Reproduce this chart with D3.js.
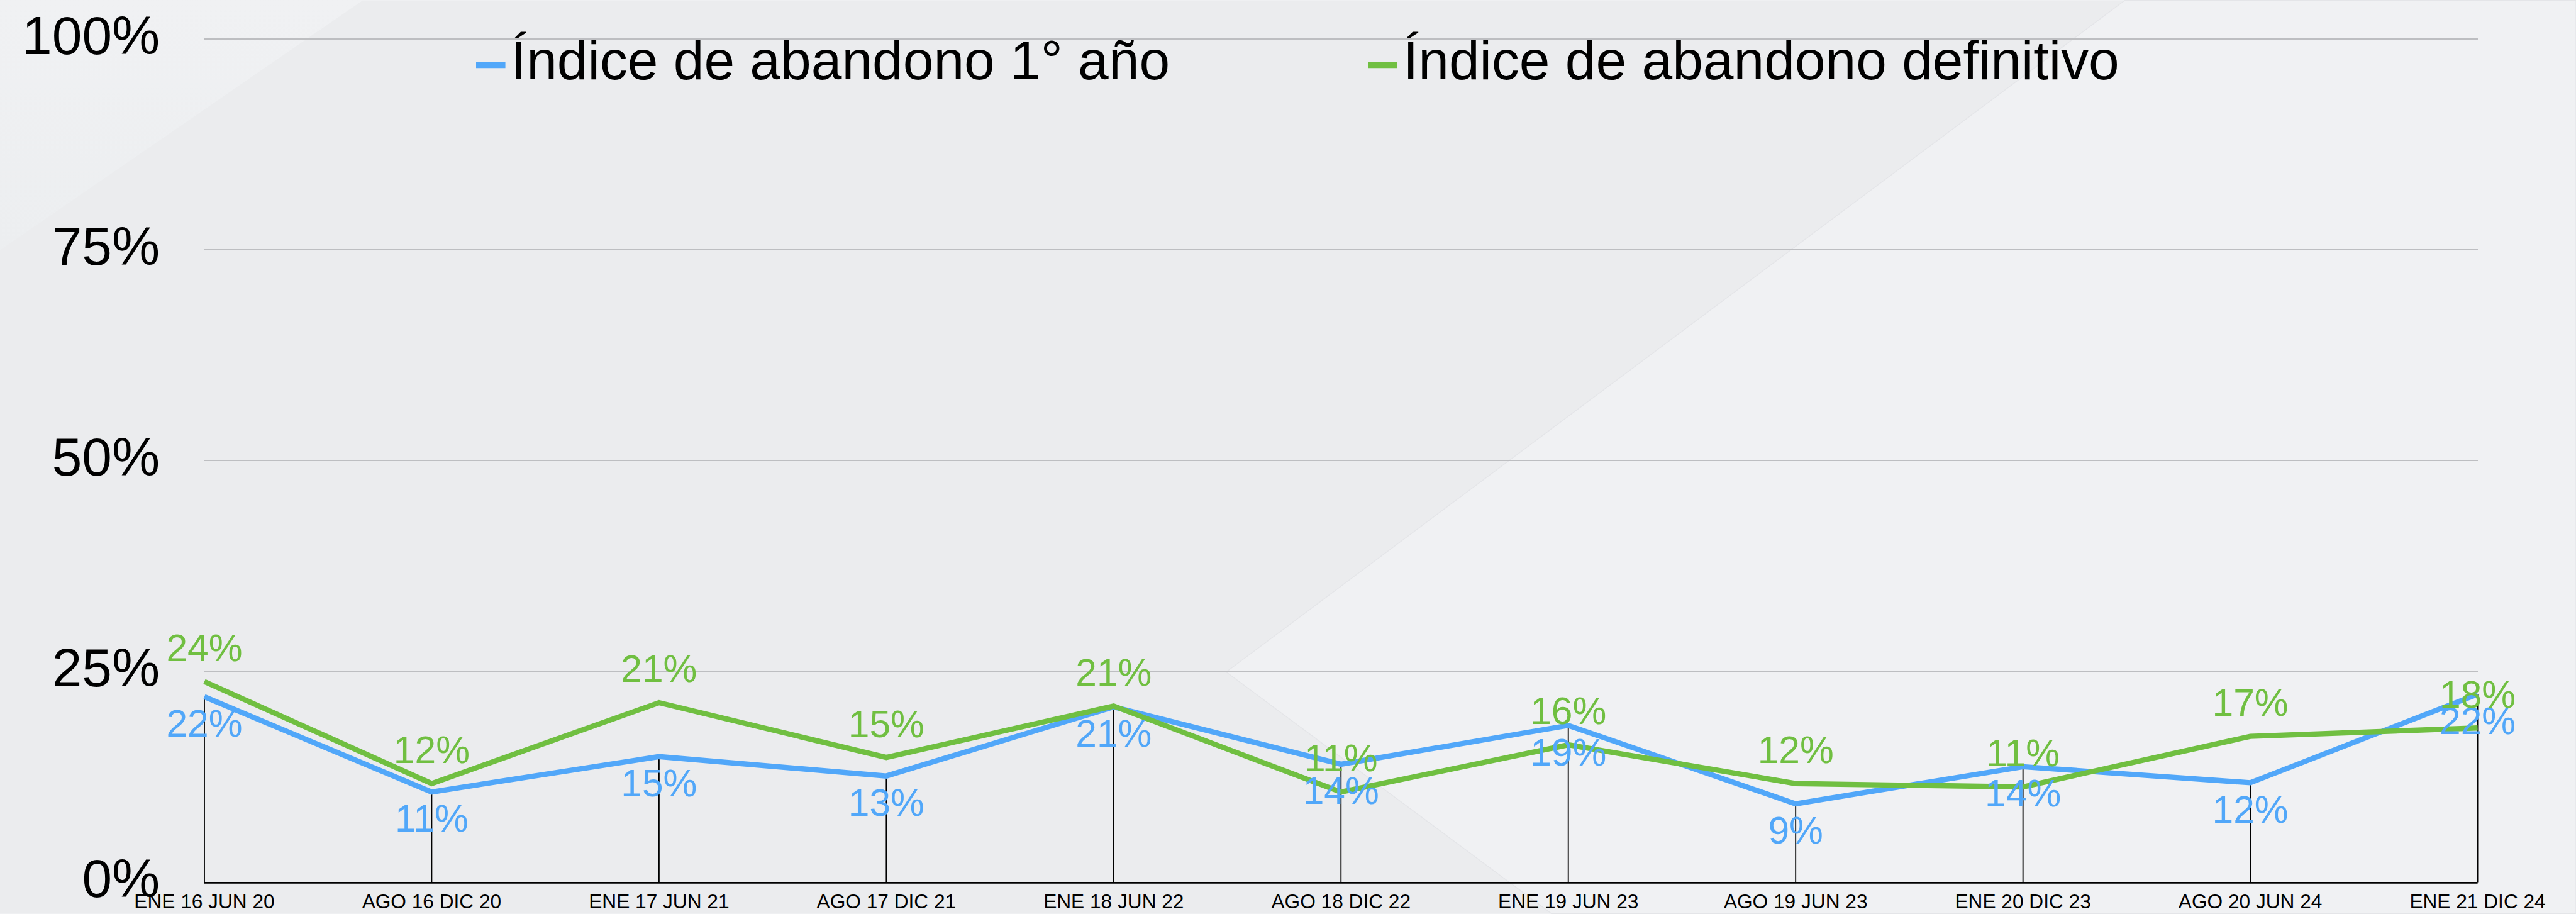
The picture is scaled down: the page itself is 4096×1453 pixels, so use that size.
<!DOCTYPE html>
<meta charset="utf-8">
<style>

body {
  margin: 0;
  overflow: hidden;
}

svg {
  display: block;
  font-family: "Liberation Sans", Arial, Helvetica, sans-serif;
}

.grid line {
  stroke: #bdbec1;
  stroke-width: 2;
  shape-rendering: crispEdges;
}

.drop {
  stroke: #000;
  stroke-width: 2;
}

.series {
  fill: none;
  stroke-width: 9;
  stroke-linejoin: miter;
}

</style>
<body>
<script src="https://cdnjs.cloudflare.com/ajax/libs/d3/7.8.5/d3.min.js"></script>
<script>

var categories = [
  "ENE 16 JUN 20", "AGO 16 DIC 20", "ENE 17 JUN 21", "AGO 17 DIC 21",
  "ENE 18 JUN 22", "AGO 18 DIC 22", "ENE 19 JUN 23", "AGO 19 JUN 23",
  "ENE 20 DIC 23", "AGO 20 JUN 24", "ENE 21 DIC 24"
];

var firstYear = [0.220, 0.107, 0.149, 0.126, 0.208, 0.140, 0.186, 0.093, 0.137, 0.118, 0.223];
var definitive = [0.238, 0.117, 0.213, 0.148, 0.209, 0.107, 0.163, 0.117, 0.113, 0.173, 0.183];

var yTicks = [0, 0.25, 0.5, 0.75, 1];

var seriesNames = ["Índice de abandono 1° año", "Índice de abandono definitivo"];
var seriesColors = ["#51a7f9", "#70bf41"];

// reference is 4399 x 1560, drawn into a 4096 x 1453 window
var W = 4399, H = 1560;

var margin = {top: 66.7, right: 168, bottom: 54, left: 349};

var svg = d3.select("body").append("svg")
    .attr("width", 4096)
    .attr("height", 1453)
    .attr("viewBox", "0 0 " + W + " " + H);

// background with the two lighter facets
svg.append("rect")
    .attr("width", W)
    .attr("height", H)
    .attr("fill", "#ebecee");

var defs = svg.append("defs");
var grad = defs.append("linearGradient")
    .attr("id", "corner")
    .attr("x1", 0).attr("y1", 0).attr("x2", 0).attr("y2", 1);
grad.append("stop").attr("offset", 0).attr("stop-color", "#f0f1f3");
grad.append("stop").attr("offset", 1).attr("stop-color", "#eceef0");

svg.append("path")
    .attr("d", "M0,0L620,0L0,427Z")
    .attr("fill", "url(#corner)");

svg.append("path")
    .attr("d", "M3629,0L" + W + ",0L" + W + "," + H + "L2650," + H + "L2094,1147Z")
    .attr("fill", "#f0f1f3")
    .attr("stroke", "#e4e5e8")
    .attr("stroke-width", 1.5);

var x = d3.scalePoint()
    .domain(categories)
    .range([margin.left, W - margin.right]);

var y = d3.scaleLinear()
    .domain([0, 1])
    .range([H - margin.bottom, margin.top]);

var pct = d3.format(".0%");

// horizontal gridlines
svg.append("g")
    .attr("class", "grid")
  .selectAll("line")
    .data(yTicks.filter(function(d) { return d > 0; }))
  .enter().append("line")
    .attr("x1", margin.left)
    .attr("x2", W - margin.right)
    .attr("y1", function(d) { return y(d); })
    .attr("y2", function(d) { return y(d); });

// y labels
svg.append("g")
  .selectAll("text")
    .data(yTicks)
  .enter().append("text")
    .attr("x", 273)
    .attr("y", function(d) { return y(d); })
    .attr("dy", "0.28em")
    .attr("text-anchor", "end")
    .attr("font-size", 92)
    .attr("fill", "#000")
    .text(pct);

// drop lines from the first series to the axis
svg.append("g")
  .selectAll("line")
    .data(categories)
  .enter().append("line")
    .attr("class", "drop")
    .attr("x1", function(d) { return x(d); })
    .attr("x2", function(d) { return x(d); })
    .attr("y1", function(d, i) { return y(firstYear[i]); })
    .attr("y2", y(0));

// x axis baseline
svg.append("line")
    .attr("x1", margin.left)
    .attr("x2", W - margin.right)
    .attr("y1", y(0) + 1)
    .attr("y2", y(0) + 1)
    .attr("stroke", "#000")
    .attr("stroke-width", 3);

// x labels
svg.append("g")
  .selectAll("text")
    .data(categories)
  .enter().append("text")
    .attr("x", function(d) { return x(d); })
    .attr("y", 1551)
    .attr("text-anchor", "middle")
    .attr("font-size", 34)
    .attr("fill", "#000")
    .text(function(d) { return d; });

var line = d3.line()
    .x(function(d, i) { return x(categories[i]); })
    .y(function(d) { return y(d); });

var series = [firstYear, definitive];

svg.selectAll(".series")
    .data(series)
  .enter().append("path")
    .attr("class", "series")
    .attr("stroke", function(d, i) { return seriesColors[i]; })
    .attr("d", line);

// value labels: first series below, second above
series.forEach(function(values, s) {
  svg.append("g")
    .selectAll("text")
      .data(values)
    .enter().append("text")
      .attr("x", function(d, i) { return x(categories[i]); })
      .attr("y", function(d) { return s === 0 ? y(d) + 68 : y(d) - 35; })
      .attr("text-anchor", "middle")
      .attr("font-size", 65)
      .attr("fill", seriesColors[s])
      .text(pct);
});

// legend
var legendX = [813, 2336];

var legend = svg.append("g")
  .selectAll("g")
    .data(seriesNames)
  .enter().append("g")
    .attr("transform", function(d, i) { return "translate(" + legendX[i] + ",0)"; });

legend.append("rect")
    .attr("y", 106)
    .attr("width", 50)
    .attr("height", 10)
    .attr("fill", function(d, i) { return seriesColors[i]; });

legend.append("text")
    .attr("x", 60)
    .attr("y", 135)
    .attr("font-size", 94)
    .attr("fill", "#000")
    .text(function(d) { return d; });

</script>
